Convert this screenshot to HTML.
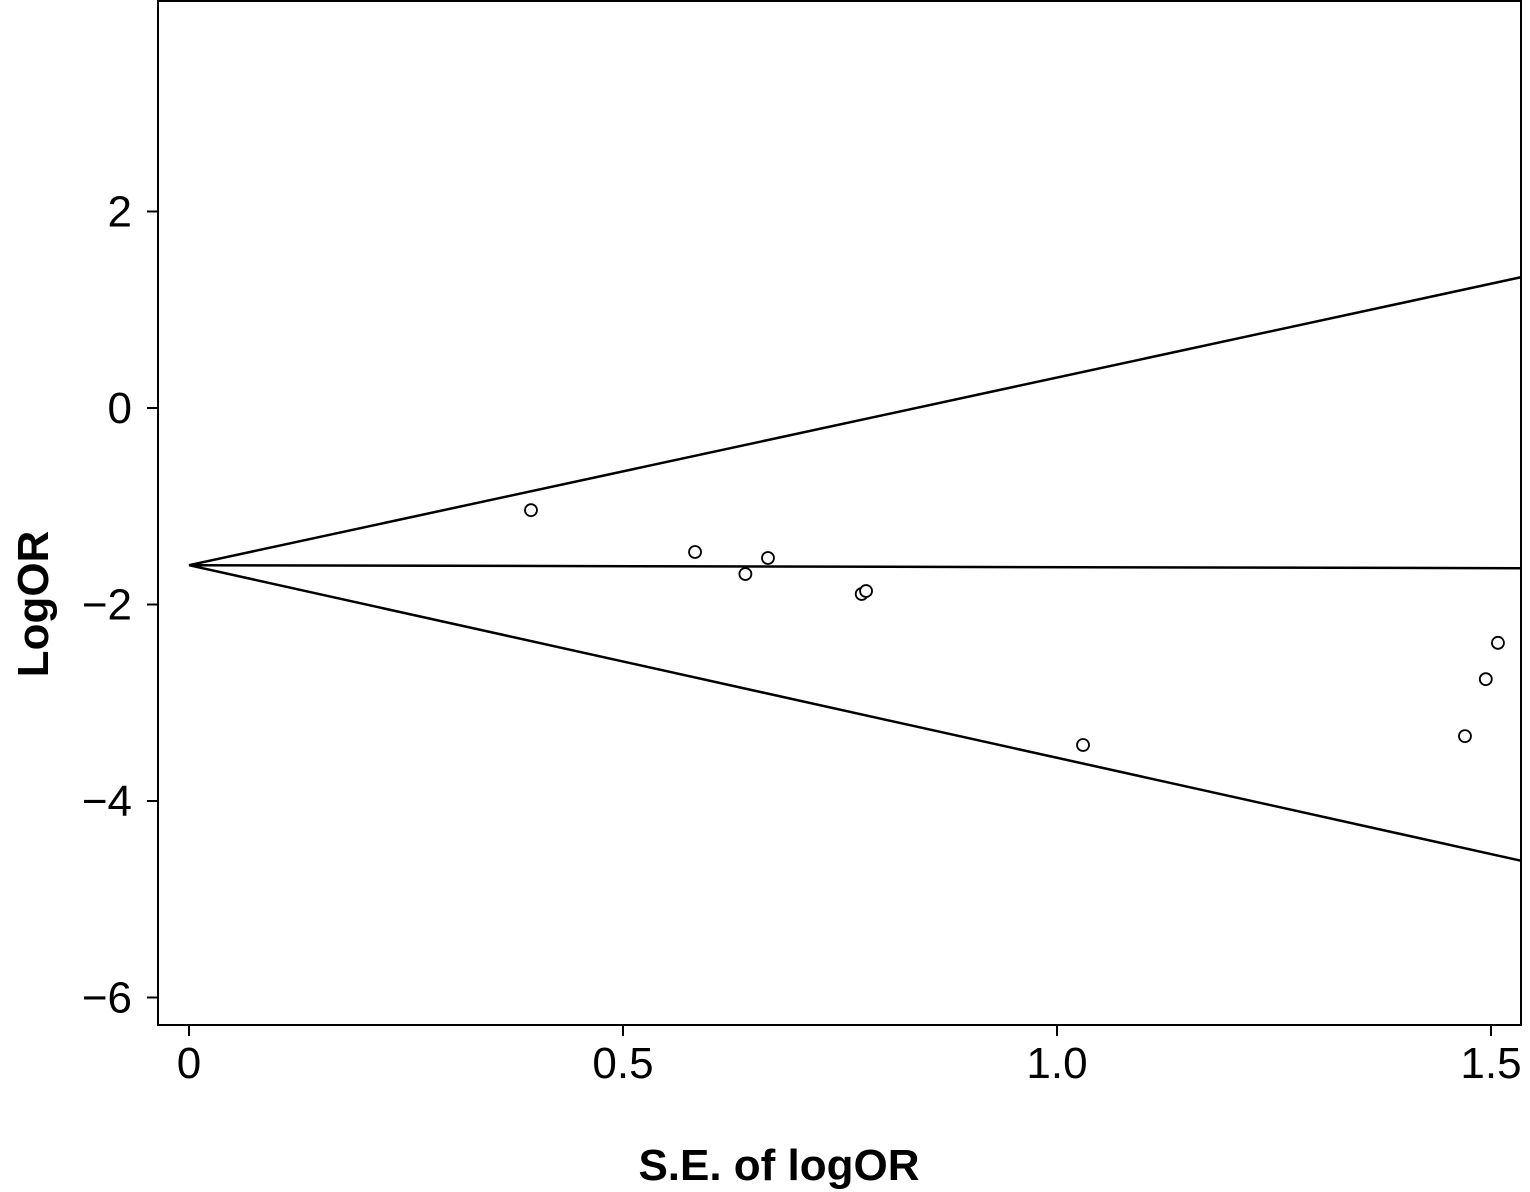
<!DOCTYPE html>
<html><head><meta charset="utf-8"><style>
html,body{margin:0;padding:0;background:#fff;}
svg{display:block;font-family:"Liberation Sans","DejaVu Sans",sans-serif;}
</style></head><body>
<svg id="chart" width="1530" height="1192" xmlns="http://www.w3.org/2000/svg"></svg>
<script>
const xTicks=[0,0.5,1.0,1.5];
const xTickLabels=["0","0.5","1.0","1.5"];
const yTicks=[2,0,-2,-4,-6];
const yTickLabels=["2","0","\u22122","\u22124","\u22126"];
const seValues=[0.394,0.583,0.641,0.667,0.775,0.780,1.030,1.470,1.494,1.508];
const logOrValues=[-1.04,-1.466,-1.69,-1.527,-1.893,-1.863,-3.43,-3.34,-2.76,-2.39];
const pooledEstimate=[-1.60];
const pooledSlope=[-0.02];
const upperSlope=[1.91];
const lowerSlope=[-1.96];
const xMax=1.535;

const svg=document.getElementById('chart');
const NS="http://www.w3.org/2000/svg";
const L=158,R=1521,T=0,B=1025;
const xs=v=>189+v*868;
const ys=v=>408-v*98.25;
function el(tag,attrs,parent){const e=document.createElementNS(NS,tag);for(const k in attrs)e.setAttribute(k,attrs[k]);(parent||svg).appendChild(e);return e;}

const frame=el('rect',{x:L,y:T+1,width:R-L,height:B-T-1,fill:'none',stroke:'#000','stroke-width':2});



xTicks.forEach((t,i)=>{
  const tk=el('line',{x1:xs(t),x2:xs(t),y1:B,y2:B+11,stroke:'#000','stroke-width':2});
  
  
  const tx=el('text',{x:xs(t),y:1078,'text-anchor':'middle','font-size':44,fill:'#000'});
  tx.textContent=xTickLabels[i];
  
  
});
yTicks.forEach((t,i)=>{
  const tk=el('line',{x1:L-11,x2:L,y1:ys(t),y2:ys(t),stroke:'#000','stroke-width':2});
  
  
  const tx=el('text',{x:132,y:ys(t)+15,'text-anchor':'end','font-size':44,fill:'#000'});
  tx.textContent=yTickLabels[i];
  
  
});

const xt=el('text',{x:779,y:1180,'text-anchor':'middle','font-size':44,'font-weight':'bold',fill:'#000'});
xt.textContent='S.E. of logOR';


const yt=el('text',{x:0,y:0,'text-anchor':'middle','font-size':44,'font-weight':'bold',fill:'#000',transform:'translate(48,604) rotate(-90)'});
yt.textContent='LogOR';



const p0=pooledEstimate[0];
const up=el('line',{x1:xs(0),y1:ys(p0),x2:xs(xMax),y2:ys(p0+upperSlope[0]*xMax),stroke:'#000','stroke-width':2.5});


const lo=el('line',{x1:xs(0),y1:ys(p0),x2:xs(xMax),y2:ys(p0+lowerSlope[0]*xMax),stroke:'#000','stroke-width':2.5});


const mid=el('line',{x1:xs(0),y1:ys(p0),x2:xs(xMax),y2:ys(p0+pooledSlope[0]*xMax),stroke:'#000','stroke-width':2.5});



seValues.forEach((s,i)=>{
  const c=el('circle',{cx:xs(s),cy:ys(logOrValues[i]),r:6,fill:'#fff',stroke:'#000','stroke-width':1.8});
  
  
});
</script>
</body></html>
